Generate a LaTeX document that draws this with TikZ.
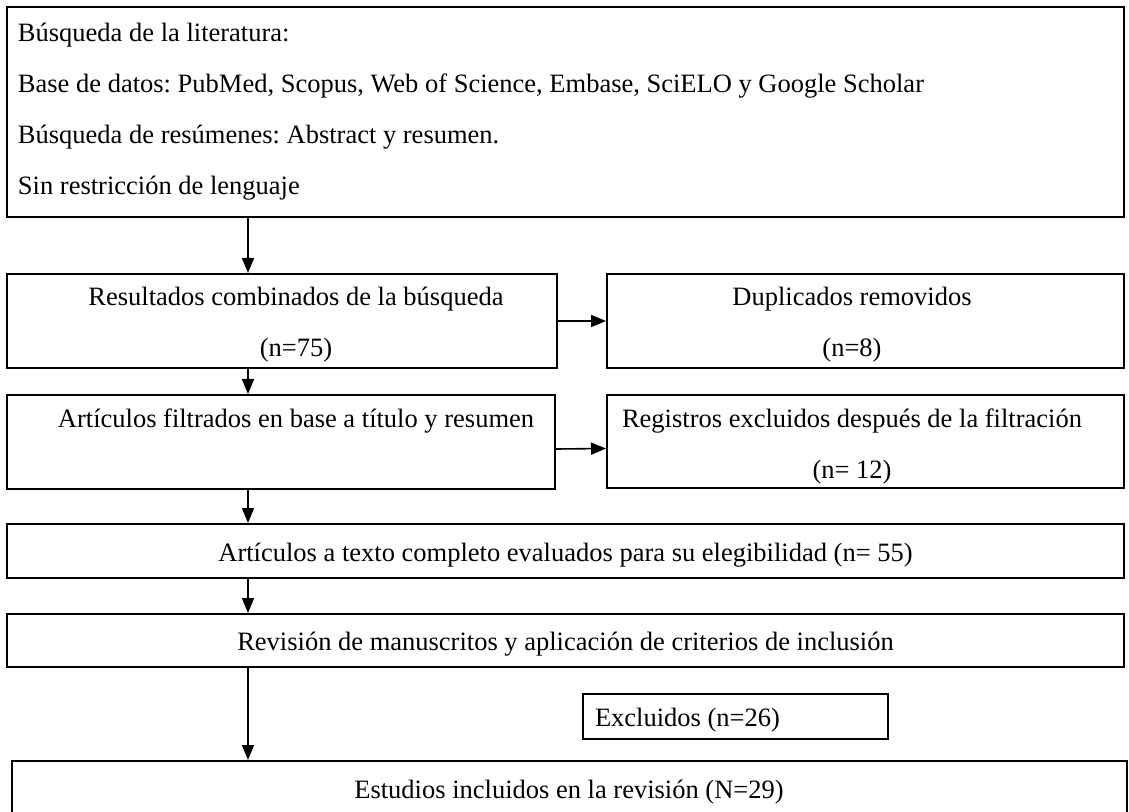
\documentclass[tikz,border=0pt]{standalone}
\usepackage{fontspec}
\setmainfont{Liberation Serif}
\frenchspacing
\usetikzlibrary{arrows.meta}
\begin{document}
\begin{tikzpicture}[x=0.5pt,y=-0.5pt,font=\fontsize{13.25}{25.5}\selectfont,
  box/.style={draw,line width=1pt,inner sep=0pt},
  oneline/.style={box,text height=12.5pt,text depth=2.5pt},
  arr/.style={-{Triangle[length=7.5pt,width=6pt]},line width=0.8pt}]
\useasboundingbox (0,0) rectangle (1129,812);
\coordinate (spine) at (248,0);
\node[box,text width=547.4pt,inner xsep=5.65pt,minimum height=104.9pt,align=flush left] (lit) at (565.4,112)
  {Búsqueda de la literatura:\\
   Base de datos: PubMed, Scopus, Web of Science, Embase, SciELO y Google Scholar\\
   Búsqueda de resúmenes: Abstract y resumen.\\
   Sin restricción de lenguaje};
\node[box,minimum width=275.2pt,minimum height=47pt] (comb) at (281.8,321) {};
\node[align=center] (combtxt) at (296,325) {Resultados combinados de la búsqueda\\(n=75)};
\node[box,minimum width=258.5pt,minimum height=47pt] (dup) at (865.5,321) {};
\node[align=center] (duptxt) at (852,325) {Duplicados removidos\\(n=8)};
\node[box,minimum width=274.2pt,minimum height=47pt] (filt) at (280.8,442) {};
\node (filttxt) at (296,421.5) {Artículos filtrados en base a título y resumen};
\node[box,minimum width=258.5pt,minimum height=46.5pt] (reg) at (865.5,441.5) {};
\node[align=center] (regtxt) at (852,446) {Registros excluidos después de la filtración\\(n= 12)};
\node[oneline,minimum width=558.5pt,minimum height=27pt] (full) at (565.5,551) {Artículos a texto completo evaluados para su elegibilidad (n= 55)};
\node[oneline,minimum width=558.5pt,minimum height=26.5pt] (rev) at (565.5,640.5) {Revisión de manuscritos y aplicación de criterios de inclusión};
\node[oneline,text width=140.5pt,inner xsep=6pt,minimum height=22.5pt,align=flush left] (excl) at (735.5,716.5) {Excluidos (n=26)};
\node[oneline,minimum width=557.5pt,minimum height=27pt] (incl) at (569,788) {Estudios incluidos en la revisión (N=29)};
\draw[arr] (lit.south -| spine) -- (comb.north -| spine);
\draw[arr] (comb.south -| spine) -- (filt.north -| spine);
\draw[arr] (filt.south -| spine) -- (full.north -| spine);
\draw[arr] (full.south -| spine) -- (rev.north -| spine);
\draw[arr] (rev.south -| spine) -- (incl.north -| spine);
\draw[arr] (comb.east) -- (dup.west);
\draw[arr] ([yshift=-3.5pt]filt.east) -- ([yshift=-3.5pt]reg.west);
\end{tikzpicture}
\end{document}
